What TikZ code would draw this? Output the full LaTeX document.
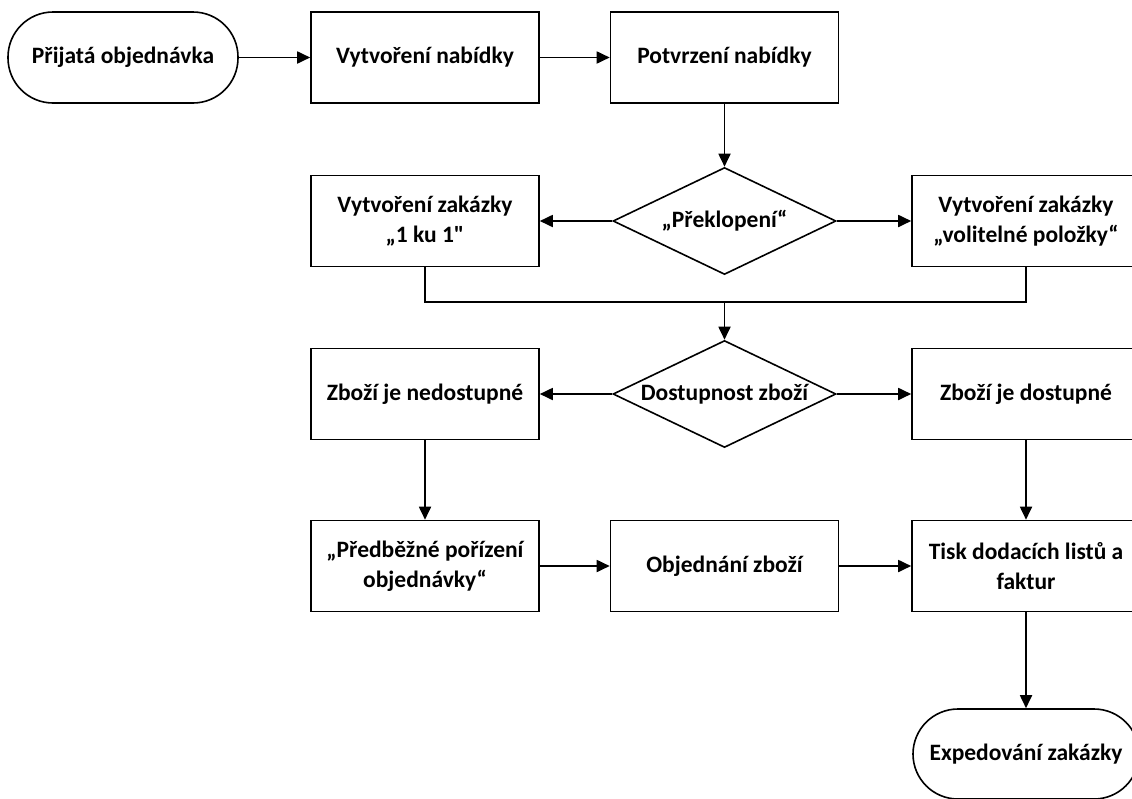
\documentclass[tikz,border=0pt]{standalone}
\usepackage{fontspec}
\newfontfamily\cf{Carlito}
\usetikzlibrary{shapes.geometric,arrows.meta}
\begin{document}
\begin{tikzpicture}[x=1pt,y=-1pt,
  every node/.style={font=\cf\bfseries\fontsize{23.5}{29.5}\selectfont},
  box/.style={draw, line width=1.6pt, minimum width=228pt, minimum height=91pt, align=center, inner sep=0pt},
  term/.style={box, rounded corners=45pt, minimum width=230pt},
  dec/.style={draw, diamond, line width=1.6pt, minimum width=223pt, minimum height=107pt, inner sep=0pt, shape aspect=2.1, align=center},
  arr/.style={line width=1.8pt, -{Triangle[length=13pt,width=12pt]}},
  ln/.style={line width=1.8pt}]
\useasboundingbox (0,0) rectangle (1132,798);
\node[term] (start) at (123,57.5) {Přijatá objednávka};
\node[box] (nab) at (425,57.5) {Vytvoření nabídky};
\node[box] (pot) at (724.5,57.5) {Potvrzení nabídky};
\node[dec] (prek) at (724.5,221) {„Překlopení“};
\node[box] (z11) at (425,221) {Vytvoření zakázky\\„1 ku 1"};
\node[box] (zvol) at (1026,221) {Vytvoření zakázky\\„volitelné položky“};
\coordinate (j) at (724.5,302);
\node[dec] (dost) at (724.5,394) {Dostupnost zboží};
\node[box] (ned) at (425,394) {Zboží je nedostupné};
\node[box] (dos) at (1026,394) {Zboží je dostupné};
\node[box] (pred) at (425,566) {„Předběžné pořízení\\objednávky“};
\node[box] (obj) at (724.5,566) {Objednání zboží};
\node[box] (tisk) at (1026,566) {Tisk dodacích listů a\\faktur};
\node[term, minimum width=226pt, minimum height=90pt] (exp) at (1026,754) {Expedování zakázky};
\draw[arr] (start) -- (nab);
\draw[arr] (nab) -- (pot);
\draw[arr] (pot) -- (prek);
\draw[arr] (prek.west) -- (z11);
\draw[arr] (prek.east) -- (zvol);
\draw[ln] (z11.south) -- (z11.south |- j) -- (zvol.south |- j) -- (zvol.south);
\draw[arr] (j) -- (dost.north);
\draw[arr] (dost.west) -- (ned);
\draw[arr] (dost.east) -- (dos);
\draw[arr] (ned) -- (pred);
\draw[arr] (dos) -- (tisk);
\draw[arr] (pred) -- (obj);
\draw[arr] (obj) -- (tisk);
\draw[arr] (tisk) -- (exp);
\end{tikzpicture}
\end{document}
